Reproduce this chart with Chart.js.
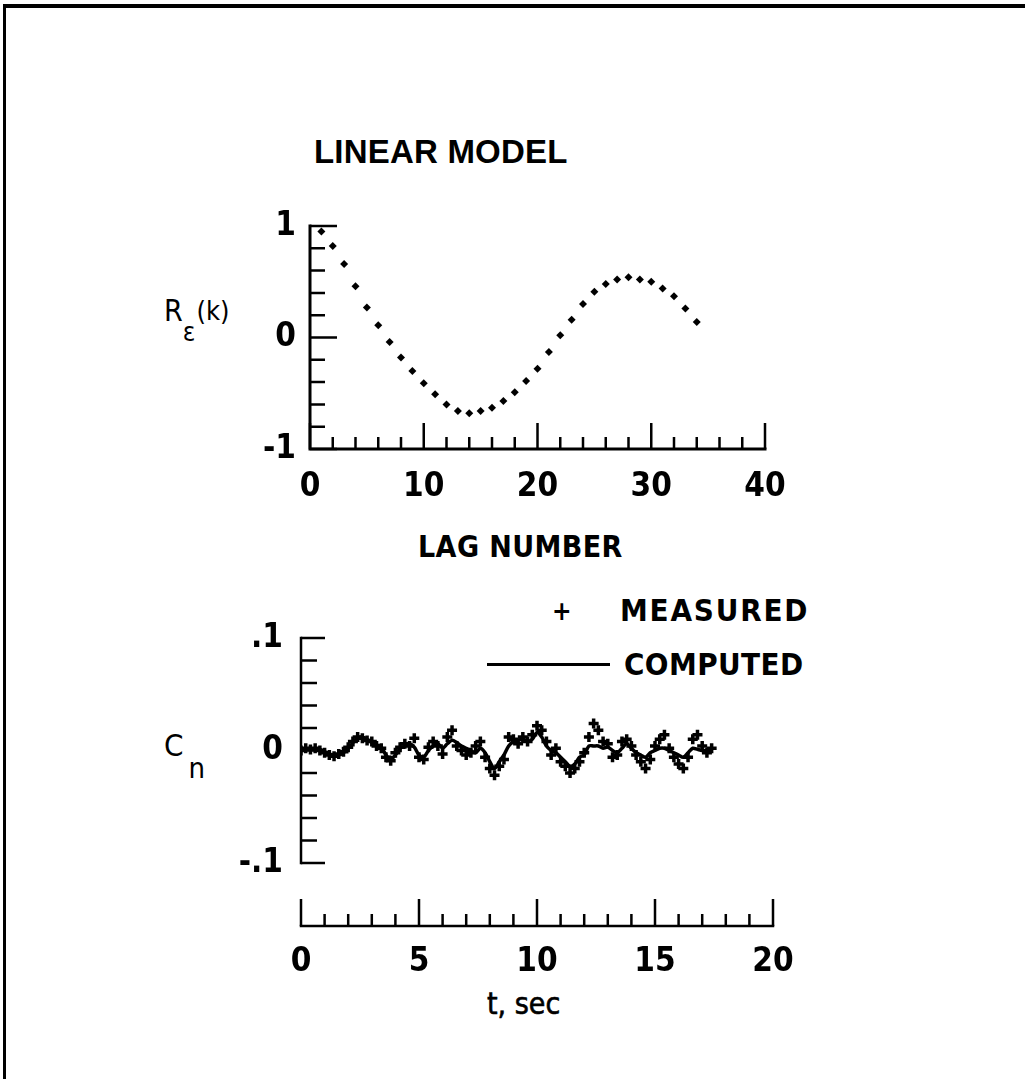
<!DOCTYPE html>
<html>
<head>
<meta charset="utf-8">
<script src="https://cdn.jsdelivr.net/npm/chart.js@4"></script>
<style>
  body { margin: 0; background: #fff; width: 1025px; height: 1079px; position: relative; overflow: hidden;
         font-family: 'DejaVu Sans Condensed', 'DejaVu Sans', sans-serif; color: #000; }
  .frame-top { position: absolute; left: 3px; top: 4px; width: 1022px; height: 4px; background: #000; }
  .frame-left { position: absolute; left: 3px; top: 4px; width: 3px; height: 1075px; background: #000; }
  .lbl { position: absolute; white-space: nowrap; line-height: 1; }
  canvas { position: absolute; }
</style>
</head>
<body>
<div class="frame-top"></div>
<div class="frame-left"></div>

<div class="lbl" style="left:314px;top:133px;font:bold 33px 'Liberation Sans', Arial, sans-serif;letter-spacing:0.2px;">LINEAR MODEL</div>

<div class="lbl" style="left:164px;top:296px;font-size:30px;">R<span style="font-size:26px;position:relative;top:20px;">ε</span><span style="font-size:27px;position:relative;top:-1px;margin-left:1px;">(k)</span></div>
<div class="lbl" style="left:418px;top:532px;font-size:30px;font-weight:bold;letter-spacing:0.4px;">LAG NUMBER</div>

<div class="lbl" style="left:552px;top:598px;font-size:26px;font-weight:bold;">+</div>
<div class="lbl" style="left:620px;top:595px;font-size:31px;font-weight:bold;letter-spacing:1.8px;">MEASURED</div>
<div style="position:absolute;left:487px;top:663px;width:123px;height:3px;background:#000;"></div>
<div class="lbl" style="left:624px;top:649px;font-size:31px;font-weight:bold;letter-spacing:0.4px;">COMPUTED</div>

<div class="lbl" style="left:164px;top:730px;font-size:31px;">C<span style="font-size:29px;position:relative;top:22px;margin-left:5px;">n</span></div>
<div class="lbl" style="left:487px;top:989px;font-size:30px;-webkit-text-stroke:0.6px #000;">t, sec</div>

<canvas id="acf" width="600" height="320" style="left:200px;top:196px;"></canvas>
<canvas id="cn" width="620" height="400" style="left:190px;top:610px;"></canvas>

<script>
// residual autocorrelation vs lag
const lagNumbers = [1, 2, 3, 4, 5, 6, 7, 8, 9, 10, 11, 12, 13, 14, 15, 16, 17,
  18, 19, 20, 21, 22, 23, 24, 25, 26, 27, 28, 29, 30, 31, 32, 33, 34];
const residualAcf = [0.95, 0.82, 0.66, 0.46, 0.27, 0.11, -0.04, -0.18, -0.30, -0.41, -0.51, -0.60,
  -0.66, -0.68, -0.66, -0.63, -0.57, -0.49, -0.39, -0.28, -0.13, 0.02, 0.16, 0.30, 0.41,
  0.48, 0.52, 0.54, 0.52, 0.50, 0.44, 0.37, 0.26, 0.14];
const lagTickLabels = ['0', '10', '20', '30', '40'];
const acfTickLabels = ['-1', '0', '1'];

// C_n time history
const tSec = [0, 0.2, 0.4, 0.6, 0.8, 1, 1.2, 1.4, 1.6, 1.8,
  2, 2.2, 2.4, 2.6, 2.8, 3, 3.2, 3.4, 3.6, 3.8,
  4, 4.2, 4.4, 4.6, 4.8, 5, 5.2, 5.4, 5.6, 5.8,
  6, 6.2, 6.4, 6.6, 6.8, 7, 7.2, 7.4, 7.6, 7.8,
  8, 8.2, 8.4, 8.6, 8.8, 9, 9.2, 9.4, 9.6, 9.8,
  10, 10.2, 10.4, 10.6, 10.8, 11, 11.2, 11.4, 11.6, 11.8,
  12, 12.2, 12.4, 12.6, 12.8, 13, 13.2, 13.4, 13.6, 13.8,
  14, 14.2, 14.4, 14.6, 14.8, 15, 15.2, 15.4, 15.6, 15.8,
  16, 16.2, 16.4, 16.6, 16.8, 17, 17.2, 17.4];
const measuredCn = [0.000, 0.002, 0.001, 0.002, 0.000, -0.002, -0.004, -0.005, -0.003, -0.001,
  0.003, 0.008, 0.012, 0.011, 0.009, 0.008, 0.004, 0.002, -0.006, -0.009,
  -0.002, 0.003, 0.006, 0.004, 0.011, -0.006, -0.008, 0.003, 0.008, 0.004,
  -0.003, 0.012, 0.018, 0.004, 0.000, -0.004, -0.002, 0.004, 0.008, -0.006,
  -0.016, -0.022, -0.014, -0.008, 0.012, 0.010, 0.006, 0.012, 0.008, 0.014,
  0.022, 0.018, 0.008, -0.004, 0.002, -0.010, -0.014, -0.020, -0.016, -0.010,
  -0.002, 0.012, 0.024, 0.018, 0.008, 0.006, -0.006, -0.004, 0.008, 0.010,
  0.004, -0.004, -0.010, -0.016, -0.008, 0.004, 0.010, 0.014, 0.002, -0.006,
  -0.012, -0.016, -0.006, 0.010, 0.014, 0.004, -0.002, 0.002];
const computedCn = [0.000, 0.001, 0.002, 0.001, 0.001, -0.001, -0.003, -0.004, -0.004, -0.002,
  0.002, 0.007, 0.011, 0.012, 0.010, 0.007, 0.005, 0.003, -0.004, -0.008,
  -0.004, 0.002, 0.004, 0.006, 0.003, -0.004, -0.006, 0.000, 0.004, 0.006,
  0.002, 0.006, 0.009, 0.007, 0.004, 0.002, 0.000, -0.002, 0.002, -0.002,
  -0.010, -0.016, -0.010, -0.004, 0.004, 0.008, 0.009, 0.010, 0.008, 0.010,
  0.016, 0.012, 0.004, 0.000, -0.002, -0.006, -0.010, -0.014, -0.012, -0.006,
  -0.004, 0.004, 0.004, 0.004, 0.002, 0.003, 0.000, -0.002, 0.002, 0.006,
  0.002, -0.002, -0.004, -0.006, -0.002, 0.000, 0.002, 0.002, 0.000, -0.002,
  -0.004, -0.006, -0.002, 0.002, 0.001, 0.000, 0.000, 0.000];
const timeTickLabels = ['0', '5', '10', '15', '20'];
const cnTickLabels = ['-.1', '0', '.1'];

const tickFont = { family: "'DejaVu Sans Condensed', 'DejaVu Sans', sans-serif", size: 33, weight: 'bold' };

function isMajor(v, step) {
  const r = v / step;
  return Math.abs(r - Math.round(r)) < 1e-6;
}
function fmt(v) {
  return String(Math.round(v * 1000) / 1000).replace('0.', '.');
}
// keep the plot area where the layout padding puts it
function fixX(h) {
  return s => { s.height = h; s.paddingLeft = 0; s.paddingRight = 0; };
}
function fixY(w) {
  return s => { s.width = w; s.paddingTop = 0; s.paddingBottom = 0; };
}

// axes drawn with ticks pointing inwards, x axis can sit below the plot
const axisFrame = {
  id: 'axisFrame',
  afterDatasetsDraw(chart, args, o) {
    const { ctx, chartArea: a } = chart;
    const xs = chart.scales.x, ys = chart.scales.y;
    const xAxisY = a.bottom + o.xGap;
    ctx.save();
    ctx.strokeStyle = '#000';
    ctx.lineCap = 'square';
    ctx.lineWidth = o.axisWidth;
    ctx.beginPath();
    ctx.moveTo(a.left, ys.getPixelForValue(ys.max));
    ctx.lineTo(a.left, ys.getPixelForValue(ys.min));
    ctx.moveTo(xs.getPixelForValue(xs.min), xAxisY);
    ctx.lineTo(xs.getPixelForValue(xs.max), xAxisY);
    ctx.stroke();
    ctx.lineWidth = o.tickWidth;
    ctx.lineCap = 'butt';
    ctx.beginPath();
    ys.ticks.forEach(t => {
      const py = ys.getPixelForValue(t.value);
      const len = isMajor(t.value, o.yMajorStep) ? o.yMajorLen : o.yMinorLen;
      ctx.moveTo(a.left, py);
      ctx.lineTo(a.left + len, py);
    });
    xs.ticks.forEach(t => {
      const px = xs.getPixelForValue(t.value);
      const len = isMajor(t.value, o.xMajorStep) ? o.xMajorLen : o.xMinorLen;
      ctx.moveTo(px, xAxisY);
      ctx.lineTo(px, xAxisY - len);
    });
    ctx.stroke();
    ctx.restore();
  }
};

new Chart(document.getElementById('acf'), {
  type: 'scatter',
  data: {
    datasets: [{
      data: lagNumbers.map((k, i) => ({ x: k, y: residualAcf[i] })),
      pointStyle: 'rectRot',
      pointRadius: 4,
      backgroundColor: '#000',
      borderColor: '#000',
      borderWidth: 0
    }]
  },
  options: {
    responsive: false,
    animation: false,
    layout: { padding: { top: 30, right: 35, left: 0, bottom: 0 } },
    plugins: {
      legend: { display: false },
      tooltip: { enabled: false },
      axisFrame: { xGap: 0, axisWidth: 3, tickWidth: 2.5, yMajorStep: 1, yMajorLen: 27, yMinorLen: 15,
                   xMajorStep: 10, xMajorLen: 26, xMinorLen: 12 }
    },
    scales: {
      x: {
        type: 'linear', min: 0, max: 40,
        afterFit: fixX(67),
        grid: { display: false, drawTicks: false },
        border: { display: false },
        ticks: { stepSize: 2, autoSkip: false, maxRotation: 0, padding: 19, color: '#000', font: tickFont,
                 callback: v => lagTickLabels.includes(fmt(v)) ? fmt(v) : '' }
      },
      y: {
        min: -1, max: 1,
        afterFit: fixY(110),
        grid: { display: false, drawTicks: false },
        border: { display: false },
        ticks: { stepSize: 0.2, autoSkip: false, padding: 14, color: '#000', font: tickFont,
                 callback: v => acfTickLabels.includes(fmt(v)) ? fmt(v) : '' }
      }
    }
  },
  plugins: [axisFrame]
});

new Chart(document.getElementById('cn'), {
  type: 'scatter',
  data: {
    datasets: [{
      label: 'COMPUTED',
      data: tSec.map((t, i) => ({ x: t, y: computedCn[i] })),
      showLine: true,
      tension: 0.3,
      borderColor: '#000',
      borderWidth: 3.5,
      pointRadius: 0
    }, {
      label: 'MEASURED',
      data: tSec.map((t, i) => ({ x: t, y: measuredCn[i] })),
      pointStyle: 'cross',
      pointRadius: 5,
      borderWidth: 3.5,
      borderColor: '#000'
    }]
  },
  options: {
    responsive: false,
    animation: false,
    layout: { padding: { top: 28, right: 37, left: 0, bottom: 0 } },
    plugins: {
      legend: { display: false },
      tooltip: { enabled: false },
      axisFrame: { xGap: 63, axisWidth: 2.5, tickWidth: 2.5, yMajorStep: 0.1, yMajorLen: 24, yMinorLen: 16,
                   xMajorStep: 5, xMajorLen: 27, xMinorLen: 12 }
    },
    scales: {
      x: {
        type: 'linear', min: 0, max: 20,
        afterFit: fixX(147),
        grid: { display: false, drawTicks: false },
        border: { display: false },
        ticks: { stepSize: 1, autoSkip: false, maxRotation: 0, padding: 80, color: '#000', font: tickFont,
                 callback: v => timeTickLabels.includes(fmt(v)) ? fmt(v) : '' }
      },
      y: {
        min: -0.1, max: 0.1,
        afterFit: fixY(111),
        grid: { display: false, drawTicks: false },
        border: { display: false },
        ticks: { stepSize: 0.02, autoSkip: false, padding: 18, color: '#000', font: tickFont,
                 callback: v => cnTickLabels.includes(fmt(v)) ? fmt(v) : '' }
      }
    }
  },
  plugins: [axisFrame]
});
</script>
</body>
</html>
